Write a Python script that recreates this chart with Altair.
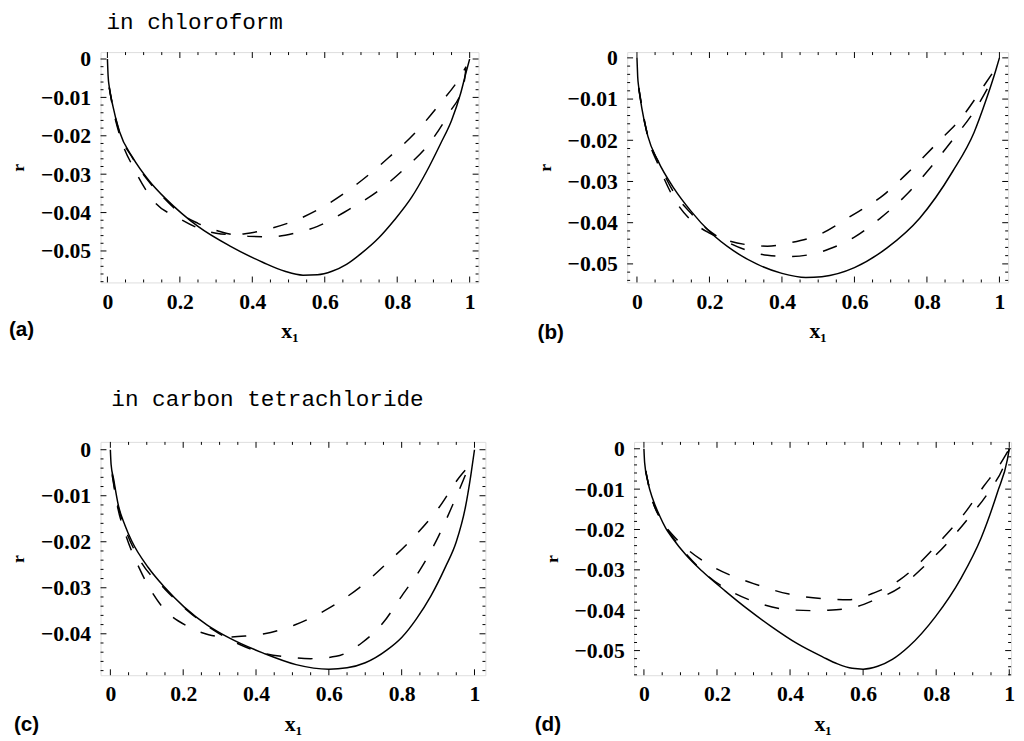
import altair as alt
import pandas as pd

# ---------------- data ----------------
# Panel (a) in chloroform
a_solid_x = [0, 0.002, 0.005, 0.015, 0.033, 0.07, 0.115, 0.16, 0.205, 0.25, 0.34, 0.43, 0.49, 0.54, 0.58, 0.62, 0.66, 0.70, 0.75, 0.79, 0.84, 0.88, 0.92, 0.95, 0.975, 0.99, 1.0]
a_solid_y = [0, -0.0045, -0.0072, -0.0122, -0.0188, -0.0257, -0.0317, -0.0363, -0.0402, -0.0436, -0.0488, -0.0530, -0.0553, -0.0563, -0.0562, -0.0553, -0.0535, -0.0507, -0.0465, -0.0422, -0.0360, -0.0295, -0.0220, -0.0160, -0.0090, -0.0035, 0]
a_dash1_x = [0.005, 0.015, 0.035, 0.076, 0.128, 0.198, 0.25, 0.30, 0.34, 0.38, 0.44, 0.52, 0.61, 0.69, 0.775, 0.85, 0.915, 0.975, 0.99]
a_dash1_y = [-0.0075, -0.0128, -0.0202, -0.0290, -0.0370, -0.0415, -0.0440, -0.0454, -0.0457, -0.0455, -0.0444, -0.0420, -0.0377, -0.0325, -0.0258, -0.0192, -0.0120, -0.0045, -0.0020]
a_dash2_x = [0.005, 0.015, 0.033, 0.07, 0.115, 0.16, 0.205, 0.25, 0.32, 0.39, 0.45, 0.52, 0.58, 0.665, 0.75, 0.82, 0.89, 0.943, 0.984, 0.99]
a_dash2_y = [-0.0073, -0.0123, -0.0190, -0.0259, -0.0320, -0.0366, -0.0405, -0.0428, -0.0452, -0.0462, -0.0463, -0.0453, -0.0436, -0.0393, -0.0342, -0.0286, -0.0218, -0.0141, -0.0064, -0.0022]

# Panel (b)
b_solid_x = [0, 0.002, 0.005, 0.013, 0.03, 0.058, 0.103, 0.149, 0.203, 0.266, 0.33, 0.40, 0.466, 0.51, 0.60, 0.69, 0.78, 0.87, 0.93, 0.964, 0.99, 1.0]
b_solid_y = [0, -0.0045, -0.0072, -0.0120, -0.0190, -0.0250, -0.0318, -0.0372, -0.0424, -0.0468, -0.0500, -0.0523, -0.0533, -0.0531, -0.0509, -0.0461, -0.0389, -0.0277, -0.0181, -0.0100, -0.0030, 0]
b_dash1_x = [0.005, 0.015, 0.03, 0.06, 0.1, 0.15, 0.2, 0.25, 0.3, 0.36, 0.42, 0.5, 0.59, 0.68, 0.755, 0.83, 0.90, 0.96, 0.98]
b_dash1_y = [-0.0074, -0.0128, -0.0192, -0.0262, -0.0338, -0.0395, -0.0425, -0.0443, -0.0453, -0.0457, -0.0449, -0.0430, -0.0384, -0.0333, -0.0272, -0.0205, -0.0140, -0.0064, -0.0038]
b_dash2_x = [0.005, 0.015, 0.03, 0.06, 0.1, 0.15, 0.2, 0.25, 0.3, 0.36, 0.42, 0.48, 0.53, 0.60, 0.67, 0.746, 0.81, 0.87, 0.93, 0.985]
b_dash2_y = [-0.0073, -0.0125, -0.0190, -0.0254, -0.0324, -0.0378, -0.0420, -0.0447, -0.0466, -0.0479, -0.0482, -0.0477, -0.0464, -0.0435, -0.0390, -0.0330, -0.0266, -0.0200, -0.0130, -0.0045]

# Panel (c) in carbon tetrachloride
c_solid_x = [0, 0.002, 0.009, 0.022, 0.04, 0.059, 0.104, 0.149, 0.203, 0.266, 0.329, 0.42, 0.51, 0.60, 0.65, 0.70, 0.76, 0.80, 0.84, 0.88, 0.92, 0.95, 0.975, 0.99, 1.0]
c_solid_y = [0, -0.0032, -0.0064, -0.0121, -0.0164, -0.0199, -0.0256, -0.0299, -0.0342, -0.0381, -0.0410, -0.0442, -0.0467, -0.0477, -0.0474, -0.0463, -0.0435, -0.0408, -0.0368, -0.0318, -0.0255, -0.0200, -0.0125, -0.0055, 0]
c_dash1_x = [0.005, 0.02, 0.04, 0.081, 0.138, 0.215, 0.27, 0.32, 0.37, 0.423, 0.506, 0.599, 0.685, 0.763, 0.833, 0.903, 0.96, 0.985]
c_dash1_y = [-0.0055, -0.0125, -0.0180, -0.0260, -0.0337, -0.0385, -0.0402, -0.0407, -0.0405, -0.0400, -0.0381, -0.0345, -0.0299, -0.0244, -0.0190, -0.0125, -0.0058, -0.0035]
c_dash2_x = [0.005, 0.02, 0.04, 0.08, 0.15, 0.22, 0.30, 0.36, 0.42, 0.48, 0.55, 0.62, 0.69, 0.75, 0.80, 0.855, 0.90, 0.94, 0.975, 0.985]
c_dash2_y = [-0.0052, -0.0118, -0.0170, -0.0238, -0.0303, -0.0355, -0.0400, -0.0425, -0.0442, -0.0450, -0.0454, -0.0449, -0.0420, -0.0375, -0.0318, -0.0255, -0.0190, -0.0120, -0.0055, -0.0035]

# Panel (d)
d_solid_x = [0, 0.002, 0.011, 0.024, 0.042, 0.06, 0.078, 0.114, 0.159, 0.222, 0.285, 0.348, 0.42, 0.49, 0.53, 0.57, 0.60, 0.64, 0.68, 0.725, 0.797, 0.869, 0.923, 0.968, 0.995, 1.0]
d_solid_y = [0, -0.0035, -0.0083, -0.0124, -0.0164, -0.0197, -0.0221, -0.0262, -0.0303, -0.0352, -0.0398, -0.0440, -0.0483, -0.0516, -0.0533, -0.0544, -0.0546, -0.0539, -0.0522, -0.0490, -0.0417, -0.0319, -0.0221, -0.0107, -0.0026, 0]
d_dash1_x = [0.005, 0.02, 0.05, 0.08, 0.12, 0.19, 0.30, 0.397, 0.50, 0.56, 0.63, 0.70, 0.76, 0.82, 0.88, 0.93, 0.97, 1.0]
d_dash1_y = [-0.0055, -0.0118, -0.0180, -0.0215, -0.0250, -0.0293, -0.0334, -0.0360, -0.0372, -0.0374, -0.0357, -0.0325, -0.0278, -0.0220, -0.0157, -0.0093, -0.0045, 0]
d_dash2_x = [0.005, 0.02, 0.05, 0.08, 0.12, 0.175, 0.25, 0.30, 0.39, 0.46, 0.50, 0.57, 0.63, 0.70, 0.765, 0.83, 0.89, 0.945, 0.99, 1.0]
d_dash2_y = [-0.0055, -0.0117, -0.0180, -0.0220, -0.0265, -0.0315, -0.0359, -0.0378, -0.0398, -0.0401, -0.0400, -0.0394, -0.0375, -0.0344, -0.0293, -0.0234, -0.0170, -0.0105, -0.0030, 0]

# tick values and labels
X_TICKS = [0, 0.2, 0.4, 0.6, 0.8, 1.0]
X_MINOR = [0.05, 0.1, 0.15, 0.25, 0.3, 0.35, 0.45, 0.5, 0.55, 0.65, 0.7, 0.75, 0.85, 0.9, 0.95]
Y_TICKS_5 = [0, -0.01, -0.02, -0.03, -0.04, -0.05]
Y_TICKS_4 = [0, -0.01, -0.02, -0.03, -0.04]
Y_MINOR = [-0.002, -0.004, -0.006, -0.008, -0.012, -0.014, -0.016, -0.018, -0.022, -0.024, -0.026,
           -0.028, -0.032, -0.034, -0.036, -0.038, -0.042, -0.044, -0.046, -0.048, -0.052, -0.054, -0.056, -0.058]

TITLE_A = "in chloroform"
TITLE_C = "in carbon tetrachloride"
LABELS = ["(a)", "(b)", "(c)", "(d)"]

SERIF = "Liberation Serif"
SANS = "Liberation Sans"
MONO = "Liberation Mono"
DASH = [15, 17]


def panel(curves, xdom, ydom, yticks, w, h, label, label_dx, label_dy,
          title=None, title_dx=0, title_dy=0):
    xs = alt.Scale(domain=xdom, nice=False, zero=False)
    ys = alt.Scale(domain=ydom, nice=False, zero=False)
    xaxis = alt.Axis(values=X_TICKS, title="x₁",
                     labelExpr="datum.value == 0 ? '0' : datum.value == 1 ? '1' : format(datum.value, '.1f')",
                     ticks=False, tickSize=0, domain=False, grid=False,
                     labelFont=SERIF, labelFontSize=22, labelFontWeight="bold", labelColor="black",
                     labelPadding=9, labelFlush=False, labelOverlap=False,
                     titleFont=SERIF, titleFontSize=22, titleFontWeight="bold", titleColor="black",
                     titlePadding=9)
    yaxis = alt.Axis(values=yticks, title="r",
                     labelExpr="datum.value == 0 ? '0' : format(datum.value, '.2f')",
                     ticks=False, tickSize=0, domain=False, grid=False,
                     labelFont=SERIF, labelFontSize=22, labelFontWeight="bold", labelColor="black",
                     labelPadding=10, labelFlush=False, labelOverlap=False,
                     titleFont=SERIF, titleFontSize=18, titleFontWeight="bold", titleColor="black",
                     titlePadding=13)

    def X():
        return alt.X("x:Q", scale=xs, axis=xaxis)

    def Y():
        return alt.Y("y:Q", scale=ys, axis=yaxis)

    layers = []
    for i, (cx, cy) in enumerate(curves):
        df = pd.DataFrame({"x": cx, "y": cy})
        kw = dict(color="black", strokeWidth=1.5, clip=True, interpolate="monotone")
        if i > 0:
            kw["strokeDash"] = DASH
        layers.append(alt.Chart(df).mark_line(**kw).encode(x=X(), y=Y()))

    # inner frame ticks
    ymin = ydom[0]
    yminor = [v for v in Y_MINOR if v > ymin]
    for vals, ln in [(X_TICKS, 6), (X_MINOR, 3)]:
        df = pd.DataFrame({"x": vals})
        layers.append(alt.Chart(df).mark_rule(color="black", strokeWidth=1)
                      .encode(x=X(), y=alt.value(h), y2=alt.value(h - ln)))
        layers.append(alt.Chart(df).mark_rule(color="black", strokeWidth=1)
                      .encode(x=X(), y=alt.value(0), y2=alt.value(ln)))
    for vals, ln in [(yticks, 6), (yminor, 3)]:
        df = pd.DataFrame({"y": vals})
        layers.append(alt.Chart(df).mark_rule(color="black", strokeWidth=1)
                      .encode(y=Y(), x=alt.value(0), x2=alt.value(ln)))
        layers.append(alt.Chart(df).mark_rule(color="black", strokeWidth=1)
                      .encode(y=Y(), x=alt.value(w), x2=alt.value(w - ln)))

    layers.append(alt.Chart(pd.DataFrame({"t": [label]}))
                  .mark_text(font=SANS, fontSize=21, fontWeight="bold", align="left",
                             baseline="middle", color="black")
                  .encode(x=alt.value(label_dx), y=alt.value(h + label_dy), text="t:N"))
    if title:
        layers.append(alt.Chart(pd.DataFrame({"t": [title]}))
                      .mark_text(font=MONO, fontSize=23, align="left", baseline="middle", color="black")
                      .encode(x=alt.value(title_dx), y=alt.value(title_dy), text="t:N"))

    return alt.layer(*layers).properties(width=w, height=h)


pa = panel([(a_solid_x, a_solid_y), (a_dash1_x, a_dash1_y), (a_dash2_x, a_dash2_y)],
           [-0.019, 1.0245], [-0.0582, 0.0018], Y_TICKS_5, 384, 234,
           LABELS[0], -93, 48, TITLE_A, 6, -30)
pb = panel([(b_solid_x, b_solid_y), (b_dash1_x, b_dash1_y), (b_dash2_x, b_dash2_y)],
           [-0.027, 1.024], [-0.0545, 0.0014], Y_TICKS_5, 387, 234,
           LABELS[1], -91, 51)
pc = panel([(c_solid_x, c_solid_y), (c_dash1_x, c_dash1_y), (c_dash2_x, c_dash2_y)],
           [-0.027, 1.03], [-0.049, 0.0017], Y_TICKS_4, 391, 237,
           LABELS[2], -88, 51, TITLE_C, 11, -43)
pd_ = panel([(d_solid_x, d_solid_y), (d_dash1_x, d_dash1_y), (d_dash2_x, d_dash2_y)],
            [-0.027, 1.005], [-0.0561, 0.0017], Y_TICKS_5, 383, 237,
            LABELS[3], -101, 51)

row1 = alt.hconcat(pa, pb, spacing=151, bounds="flush")
row2 = alt.hconcat(pc, pd_, spacing=151, bounds="flush")
chart = (alt.vconcat(row1, row2, spacing=45)
         .properties(padding={"left": 0, "top": -3, "right": 0, "bottom": -4})
         .configure_view(stroke="black", strokeWidth=1.8)
         .configure(background="white"))

chart.save("out.html", embed_options={"renderer": "svg", "actions": False})
